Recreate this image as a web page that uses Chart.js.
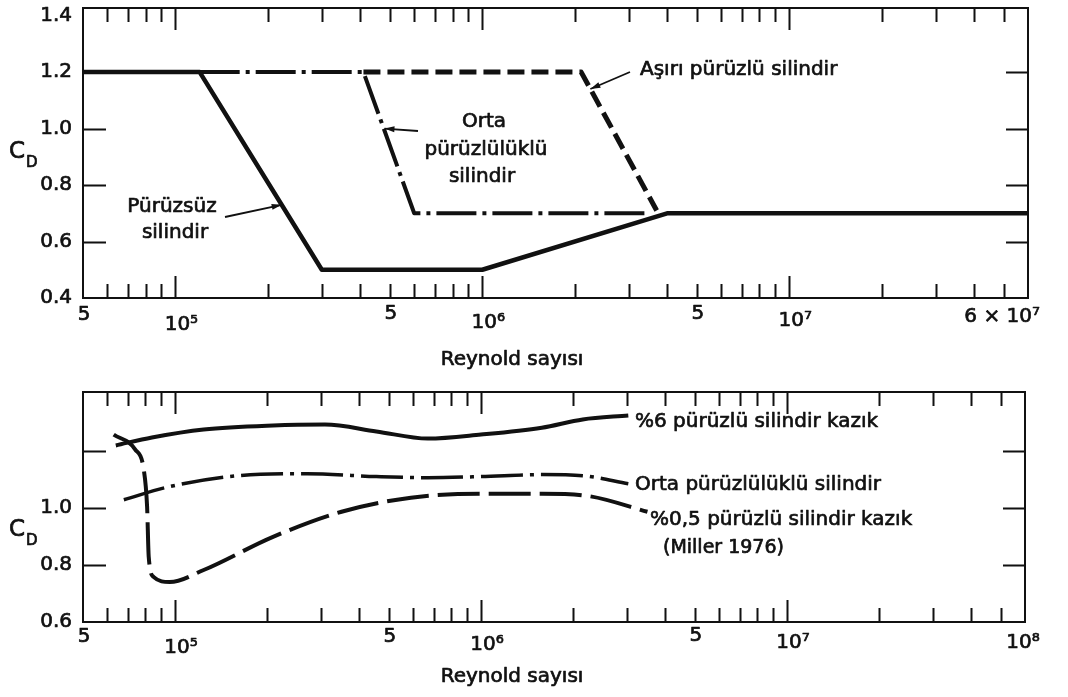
<!DOCTYPE html>
<html lang="tr">
<head>
<meta charset="UTF-8">
<title>C_D - Reynold sayısı</title>
<script src="https://cdn.jsdelivr.net/npm/chart.js"></script>
<style>
  body { margin: 0; background: #fff; }
  .panel { position: absolute; left: 0; width: 1068px; }
  #top { top: 0; height: 380px; }
  #bottom { top: 380px; height: 317px; }
</style>
</head>
<body>
<div class="panel" id="top"><canvas id="topChart"></canvas></div>
<div class="panel" id="bottom"><canvas id="bottomChart"></canvas></div>

<script>
// --- ust grafik: silindirler ---
const topSmoothRe = [5e4, 1.2e5, 3e5, 1e6, 4e6, 6e7];
const topSmoothCd = [1.2, 1.2, 0.5, 0.5, 0.7, 0.7];
const topMediumRe = [1.2e5, 4.1e5, 6e5, 3.5e6];
const topMediumCd = [1.2, 1.2, 0.7, 0.7];
const topRoughRe = [4.1e5, 2.1e6, 3.7e6];
const topRoughCd = [1.2, 1.2, 0.71];

// --- alt grafik: kaziklar (Miller 1976) ---
const pile6Re = [6.4e4, 8.4e4, 1.24e5, 2.09e5, 3.09e5, 4.55e5, 6.7e5, 1e6, 1.58e6, 2.15e6, 3.03e6];
const pile6Cd = [1.218, 1.246, 1.274, 1.288, 1.291, 1.267, 1.242, 1.256, 1.28, 1.309, 1.323];
const mediumRe = [6.8e4, 9.6e4, 1.6e5, 2.7e5, 4.55e5, 6.7e5, 1e6, 1.58e6, 2.15e6, 3.03e6];
const mediumCd = [1.028, 1.074, 1.112, 1.119, 1.109, 1.105, 1.109, 1.116, 1.112, 1.084];
const pile05Re = [6.3e4, 7.4e4, 7.9e4, 8.1e4, 8.2e4, 8.5e4, 9.6e4, 1.24e5, 2.09e5, 3.5e5, 5.9e5, 1e6, 1.58e6, 2.27e6, 3.5e6];
const pile05Cd = [1.256, 1.204, 1.133, 1.004, 0.828, 0.758, 0.74, 0.782, 0.898, 0.986, 1.035, 1.049, 1.049, 1.04, 0.986];

// eksenler
const xTickValues = [5e4, 1e5, 5e5, 1e6, 5e6, 1e7, 6e7];
const topXTickLabels = ['5', '10⁵', '5', '10⁶', '5', '10⁷', '6 × 10⁷'];
const bottomXTickLabels = ['5', '10⁵', '5', '10⁶', '5', '10⁷', '10⁸'];
const topYTickLabels = [0.4, 0.6, 0.8, 1.0, 1.2, 1.4];
const topYTickMarks = [0.6, 0.8, 1.0, 1.2];
const bottomYTickLabels = [0.6, 0.8, 1.0];
const bottomYTickMarks = [0.8, 1.0, 1.2];

const FONT = '"DejaVu Sans", sans-serif';
const INK = '#111';

function pts(xs, ys) {
  return xs.map((v, i) => ({ x: v, y: ys[i] }));
}

function minorTicks(min, max) {
  const out = [];
  for (let d = 1e4; d <= 1e8; d *= 10) {
    for (let k = 1; k <= 9; k++) {
      const v = k * d;
      if (v > min * 1.001 && v < max * 0.999) out.push(v);
    }
  }
  return out;
}

function isDecade(v) {
  const l = Math.log10(v);
  return Math.abs(l - Math.round(l)) < 1e-9;
}

// taranmis baskidaki gibi biraz kalin yazi
function text(ctx, s, x, y) {
  ctx.fillText(s, x, y);
  ctx.strokeText(s, x, y);
}

function arrow(ctx, x1, y1, x2, y2) {
  ctx.beginPath();
  ctx.moveTo(x1, y1);
  ctx.lineTo(x2, y2);
  ctx.lineWidth = 1.8;
  ctx.stroke();
  const ang = Math.atan2(y2 - y1, x2 - x1);
  ctx.beginPath();
  ctx.moveTo(x2, y2);
  ctx.lineTo(x2 - 10 * Math.cos(ang) + 3 * Math.sin(ang), y2 - 10 * Math.sin(ang) - 3 * Math.cos(ang));
  ctx.lineTo(x2 - 10 * Math.cos(ang) - 3 * Math.sin(ang), y2 - 10 * Math.sin(ang) + 3 * Math.cos(ang));
  ctx.closePath();
  ctx.fill();
}

// cerceve, ic tikler, etiketler ve notlar
function figurePlugin(cfg) {
  return {
    id: 'figure',
    afterDraw(chart) {
      const { ctx, chartArea: a, scales: { x, y } } = chart;
      ctx.save();
      ctx.strokeStyle = INK;
      ctx.fillStyle = INK;
      ctx.lineWidth = 2;
      ctx.strokeRect(a.left, a.top, a.right - a.left, a.bottom - a.top);

      ctx.beginPath();
      minorTicks(x.min, x.max).forEach(v => {
        const px = Math.round(x.getPixelForValue(v)) + 0.5;
        const len = isDecade(v) ? 22 : 14;
        ctx.moveTo(px, a.bottom); ctx.lineTo(px, a.bottom - len);
        ctx.moveTo(px, a.top); ctx.lineTo(px, a.top + len);
      });
      cfg.yMarks.forEach(v => {
        const py = Math.round(y.getPixelForValue(v)) + 0.5;
        ctx.moveTo(a.left, py); ctx.lineTo(a.left + 23, py);
        ctx.moveTo(a.right - 22, py); ctx.lineTo(a.right, py);
      });
      ctx.stroke();

      ctx.lineWidth = 0.7;
      ctx.lineJoin = 'round';
      ctx.font = '20px ' + FONT;
      ctx.textBaseline = 'middle';
      ctx.textAlign = 'right';
      cfg.yLabels.forEach(v => {
        text(ctx, v.toFixed(1), a.left - 11, y.getPixelForValue(v));
      });

      xTickValues.forEach((v, i) => {
        const o = cfg.xLabelPos[i];
        ctx.textAlign = o.align || 'center';
        text(ctx, cfg.xLabels[i], x.getPixelForValue(v) + o.dx, a.bottom + o.dy);
      });

      // C_D
      ctx.textAlign = 'left';
      ctx.font = '23px ' + FONT;
      text(ctx, 'C', 9, cfg.cdY);
      ctx.font = '15px ' + FONT;
      text(ctx, 'D', 26, cfg.cdY + 11);

      ctx.textAlign = 'center';
      ctx.font = '20px ' + FONT;
      text(ctx, 'Reynold sayısı', 512, cfg.titleY);

      cfg.notes.forEach(n => {
        ctx.font = (n.size || 20) + 'px ' + FONT;
        ctx.textAlign = n.align || 'left';
        text(ctx, n.text, n.x, n.y);
      });
      (cfg.arrows || []).forEach(r => {
        arrow(ctx, r.from[0], r.from[1], x.getPixelForValue(r.to[0]), y.getPixelForValue(r.to[1]));
      });
      ctx.restore();
    }
  };
}

function makeChart(id, datasets, yMin, yMax, padding, cfg, smooth) {
  return new Chart(document.getElementById(id), {
    type: 'line',
    data: { datasets },
    options: {
      responsive: true,
      maintainAspectRatio: false,
      animation: false,
      layout: { padding },
      elements: {
        point: { radius: 0 },
        line: {
          tension: 0,
          cubicInterpolationMode: smooth ? 'monotone' : 'default',
          borderColor: INK,
          borderCapStyle: 'butt',
          borderJoinStyle: 'round'
        }
      },
      plugins: { legend: { display: false }, tooltip: { enabled: false } },
      scales: {
        x: { type: 'logarithmic', min: 5e4, max: 6e7, display: false },
        y: { type: 'linear', min: yMin, max: yMax, display: false }
      }
    },
    plugins: [figurePlugin(cfg)]
  });
}

makeChart('topChart', [
  { label: 'Pürüzsüz silindir', data: pts(topSmoothRe, topSmoothCd), borderWidth: 4.5 },
  { label: 'Orta pürüzlülüklü silindir', data: pts(topMediumRe, topMediumCd), borderWidth: 4, borderDash: [40, 6, 4, 6] },
  { label: 'Aşırı pürüzlü silindir', data: pts(topRoughRe, topRoughCd), borderWidth: 5, borderDash: [17, 7] }
], 0.4, 1.427, { left: 83, top: 8, right: 40, bottom: 82 }, {
  yMarks: topYTickMarks,
  yLabels: topYTickLabels,
  xLabels: topXTickLabels,
  xLabelPos: [
    { dx: 1, dy: 17 }, { dx: 6, dy: 27 }, { dx: 1, dy: 16 }, { dx: 6, dy: 25 },
    { dx: 1, dy: 16 }, { dx: 6, dy: 23 }, { dx: 12, dy: 19, align: 'right' }
  ],
  cdY: 152,
  titleY: 360,
  notes: [
    { text: 'Aşırı pürüzlü silindir', x: 640, y: 70 },
    { text: 'Orta', x: 484, y: 122, align: 'center' },
    { text: 'pürüzlülüklü', x: 486, y: 150, align: 'center' },
    { text: 'silindir', x: 482, y: 177, align: 'center' },
    { text: 'Pürüzsüz', x: 172, y: 207, align: 'center' },
    { text: 'silindir', x: 175, y: 233, align: 'center' }
  ],
  arrows: [
    { from: [630, 72], to: [2.25e6, 1.14] },
    { from: [418, 131], to: [4.8e5, 1.0] },
    { from: [225, 217], to: [2.22e5, 0.73] }
  ]
}, false);

makeChart('bottomChart', [
  { label: '%6 pürüzlü silindir kazık', data: pts(pile6Re, pile6Cd), borderWidth: 4 },
  { label: 'Orta pürüzlülüklü silindir', data: pts(mediumRe, mediumCd), borderWidth: 3.5, borderDash: [42, 7, 4, 7] },
  { label: '%0,5 pürüzlü silindir kazık', data: pts(pile05Re, pile05Cd), borderWidth: 4, borderDash: [42, 9] }
], 0.6, 1.405, { left: 83, top: 12, right: 43, bottom: 75 }, {
  yMarks: bottomYTickMarks,
  yLabels: bottomYTickLabels,
  xLabels: bottomXTickLabels,
  xLabelPos: [
    { dx: 1, dy: 15 }, { dx: 6, dy: 26 }, { dx: 1, dy: 15 }, { dx: 6, dy: 23 },
    { dx: 1, dy: 14 }, { dx: 6, dy: 21 }, { dx: -2, dy: 21 }
  ],
  cdY: 530 - 380,
  titleY: 677 - 380,
  notes: [
    { text: '%6 pürüzlü silindir kazık', x: 635, y: 422 - 380 },
    { text: 'Orta pürüzlülüklü silindir', x: 635, y: 485 - 380 },
    { text: '%0,5 pürüzlü silindir kazık', x: 650, y: 520 - 380 },
    { text: '(Miller 1976)', x: 663, y: 548 - 380, size: 19 }
  ]
}, true);
</script>
</body>
</html>
